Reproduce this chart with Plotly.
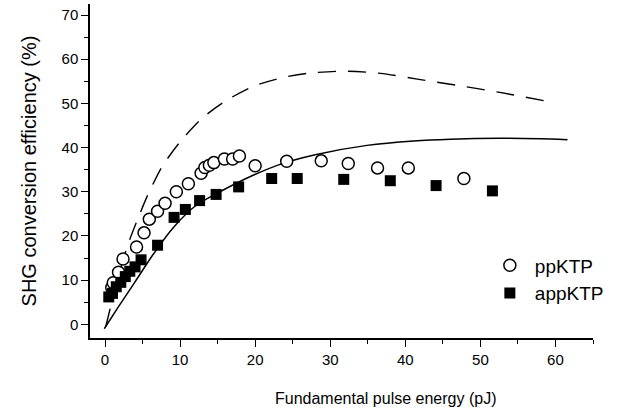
import plotly.graph_objects as go

# ppKTP measured points
pp_x = [0.9, 1.1, 1.8, 2.4, 4.2, 5.2, 5.9, 7.0, 8.0, 9.5, 11.1, 12.8, 13.3, 13.9, 14.5, 15.9, 17.0, 17.9, 20.0, 24.2, 28.8, 32.4, 36.3, 40.4, 47.8]
pp_y = [8.3, 9.4, 11.8, 14.8, 17.5, 20.7, 23.8, 25.6, 27.4, 30.0, 31.8, 34.2, 35.5, 36.0, 36.6, 37.4, 37.4, 38.1, 35.9, 36.9, 37.0, 36.4, 35.4, 35.4, 33.0]

# appKTP measured points
app_x = [0.5, 1.0, 1.5, 2.1, 2.7, 3.3, 4.0, 4.8, 7.0, 9.2, 10.7, 12.6, 14.8, 17.8, 22.2, 25.6, 31.8, 38.0, 44.1, 51.6]
app_y = [6.2, 7.0, 8.5, 9.5, 10.8, 12.0, 13.0, 14.6, 17.9, 24.2, 26.0, 28.0, 29.4, 31.1, 33.0, 33.0, 32.8, 32.5, 31.4, 30.2]

# solid model curve
sol_x = [-0.1, 1.8, 4.0, 6.4, 9.2, 12.2, 15.3, 19.8, 24.0, 28.0, 34.9, 41.1, 46.0, 52.7, 58.0, 61.6]
sol_y = [-1.0, 4.0, 9.6, 15.8, 22.1, 27.0, 30.0, 33.8, 36.6, 38.4, 40.5, 41.5, 41.9, 42.1, 42.0, 41.8]

# dashed model curve
dash_x = [0.1, 1.5, 3.0, 4.4, 5.6, 7.6, 10.0, 12.9, 16.2, 19.8, 23.8, 26.9, 31.8, 36.7, 41.6, 46.9, 52.2, 59.8]
dash_y = [-0.5, 9.0, 17.8, 24.0, 28.9, 35.7, 41.3, 46.6, 50.7, 53.9, 55.9, 56.8, 57.3, 56.8, 55.5, 54.1, 52.6, 50.2]

x_ticks = [0, 10, 20, 30, 40, 50, 60]
y_ticks = [0, 10, 20, 30, 40, 50, 60, 70]

FONT = "Liberation Sans, Arial, sans-serif"

fig = go.Figure()
fig.add_trace(go.Scatter(x=dash_x, y=dash_y, mode="lines", line=dict(color="black", width=1.4, dash="18px,12px", shape="spline", smoothing=0.7), showlegend=False, hoverinfo="skip"))
fig.add_trace(go.Scatter(x=sol_x, y=sol_y, mode="lines", line=dict(color="black", width=1.5, shape="spline", smoothing=0.7), showlegend=False, hoverinfo="skip"))
fig.add_trace(go.Scatter(x=pp_x, y=pp_y, mode="markers", name="ppKTP",
                         marker=dict(symbol="circle", size=12, color="white", line=dict(color="black", width=1.5))))
fig.add_trace(go.Scatter(x=app_x, y=app_y, mode="markers", name="appKTP",
                         marker=dict(symbol="square", size=11, color="black", line=dict(color="black", width=0))))

fig.update_layout(
    width=642, height=411,
    margin=dict(l=90, r=49, t=4, b=73),
    paper_bgcolor="white", plot_bgcolor="white",
    font=dict(family=FONT, color="black"),
    legend=dict(x=0.785, y=0.274, xanchor="left", yanchor="top", font=dict(size=19, family=FONT),
                bgcolor="rgba(0,0,0,0)", tracegroupgap=0, itemwidth=40),
    annotations=[dict(text="Fundamental pulse energy (pJ)", xref="paper", yref="paper",
                      x=0.5865, y=-0.18, xanchor="center", yanchor="middle", showarrow=False,
                      font=dict(size=16, family=FONT, color="black"))],
)
fig.update_xaxes(
    range=[-2, 65], tickvals=x_ticks, ticks="outside", ticklen=7, tickwidth=1.3, tickcolor="black",
    minor=dict(dtick=5, tick0=0, ticks="outside", ticklen=4, tickwidth=1.3, tickcolor="black"),
    showline=True, linecolor="black", linewidth=1.5, showgrid=False, zeroline=False,
    tickfont=dict(size=15, family=FONT),
)
fig.update_yaxes(
    range=[-3.1, 72.5], tickvals=y_ticks, ticks="outside", ticklen=7, tickwidth=1.3, tickcolor="black",
    minor=dict(dtick=5, tick0=0, ticks="outside", ticklen=4, tickwidth=1.3, tickcolor="black"),
    showline=True, linecolor="black", linewidth=1.5, showgrid=False, zeroline=False,
    tickfont=dict(size=15, family=FONT),
    title=dict(text="SHG conversion efficiency (%)", font=dict(size=20, family=FONT), standoff=20),
)
fig.write_html("out.html")
